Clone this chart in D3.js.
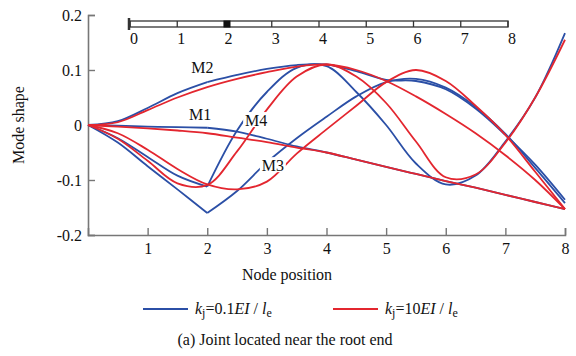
<!DOCTYPE html>
<html>
<head>
<meta charset="utf-8">
<script src="https://cdn.jsdelivr.net/npm/d3@7"></script>
<style>
  body { margin: 0; background: #fff; }
  svg text { font-family: 'Liberation Serif', 'Times New Roman', serif; fill: #111; }
</style>
</head>
<body>
<svg id="chart" width="576" height="356"></svg>
<script>
// node positions along the beam (x values of every curve)
var nodePos = [0, 0.5, 1, 1.5, 2, 2.5, 3, 3.5, 4, 4.5, 5, 5.5, 6, 6.5, 7, 7.5, 8];
var jointPos = 2;

// kj = 0.1EI/le (blue)
var blueM1 = [0, -0.001, -0.003, -0.004, -0.005, -0.012, -0.025, -0.039, -0.05, -0.063, -0.076, -0.089, -0.102, -0.114, -0.127, -0.14, -0.153];
var blueM2 = [0, 0.007, 0.031, 0.058, 0.078, 0.091, 0.102, 0.109, 0.11, 0.098, 0.082, 0.08, 0.065, 0.03, -0.018, -0.072, -0.136];
var blueM3 = [0, -0.032, -0.075, -0.117, -0.16, -0.12, -0.068, -0.024, 0.015, 0.052, 0.078, 0.084, 0.068, 0.033, -0.016, -0.078, -0.142];
var blueM4 = [0, -0.024, -0.058, -0.092, -0.112, -0.01, 0.06, 0.104, 0.107, 0.06, 0.0, -0.07, -0.108, -0.092, -0.03, 0.05, 0.167];

// kj = 10EI/le (red)
var redM1 = [0, -0.003, -0.006, -0.01, -0.015, -0.023, -0.031, -0.041, -0.05, -0.063, -0.076, -0.089, -0.102, -0.114, -0.127, -0.14, -0.153];
var redM2 = [0, 0.005, 0.027, 0.05, 0.069, 0.084, 0.096, 0.106, 0.11, 0.1, 0.08, 0.052, 0.02, -0.015, -0.055, -0.1, -0.153];
var redM3 = [0, -0.015, -0.045, -0.08, -0.108, -0.117, -0.103, -0.052, -0.008, 0.035, 0.078, 0.1, 0.08, 0.035, -0.018, -0.085, -0.153];
var redM4 = [0, -0.025, -0.065, -0.106, -0.109, -0.048, 0.028, 0.088, 0.11, 0.088, 0.04, -0.03, -0.095, -0.09, -0.032, 0.05, 0.155];

var xTicks = [1, 2, 3, 4, 5, 6, 7, 8];
var yTicks = [-0.2, -0.1, 0, 0.1, 0.2];
var yTickLabels = ["-0.2", "-0.1", "0", "0.1", "0.2"];
var beamNodes = [0, 1, 2, 3, 4, 5, 6, 7, 8];

var blue = "#2b4fa6", red = "#e3262f";
var serif = "'Liberation Serif', 'Times New Roman', serif";

var modeLabels = [
  {name: "M1", x: 1.88, y: 0.019},
  {name: "M2", x: 1.92, y: 0.105},
  {name: "M4", x: 2.82, y: 0.009},
  {name: "M3", x: 3.1, y: -0.073}
];

var svg = d3.select("#chart");

var x = d3.scaleLinear().domain([0, 8]).range([88, 565]);
var y = d3.scaleLinear().domain([-0.2, 0.2]).range([235, 15]);

// axes (ticks point inward)
var xAxis = d3.axisBottom(x).tickValues(xTicks).tickSize(-7).tickPadding(8).tickFormat(d3.format("d"));
var yAxis = d3.axisLeft(y).tickValues(yTicks).tickSize(-7).tickPadding(6)
  .tickFormat(function(d, i) { return yTickLabels[i]; });

var gx = svg.append("g").attr("transform", "translate(0," + y(-0.2) + ")").call(xAxis);
var gy = svg.append("g").attr("transform", "translate(" + x(0) + ",0)").call(yAxis);
[gx, gy].forEach(function(g) {
  g.attr("font-family", serif).attr("font-size", 16);
  g.select(".domain").attr("stroke", "#777").attr("stroke-width", 1.6);
  g.selectAll(".tick line").attr("stroke", "#777").attr("stroke-width", 1.4);
  g.selectAll(".tick text").attr("fill", "#111");
});

// lines
var line = d3.line()
  .x(function(d) { return x(d[0]); })
  .y(function(d) { return y(d[1]); })
  .curve(d3.curveCatmullRom.alpha(0.5));

function pairs(vals) {
  return nodePos.map(function(p, i) { return [p, vals[i]]; });
}

var plot = svg.append("g");

function drawSeries(vals, color, kink) {
  var pts = pairs(vals);
  var parts = kink
    ? [pts.filter(function(d) { return d[0] <= jointPos; }), pts.filter(function(d) { return d[0] >= jointPos; })]
    : [pts];
  parts.forEach(function(seg) {
    plot.append("path")
      .attr("d", line(seg))
      .attr("fill", "none")
      .attr("stroke", color)
      .attr("stroke-width", 1.8);
  });
}

[blueM1, blueM2, blueM3, blueM4].forEach(function(s) { drawSeries(s, blue, true); });
[redM1, redM2, redM3, redM4].forEach(function(s) { drawSeries(s, red, false); });

// mode labels sit on white boxes, so they cut the lines
var lab = svg.append("g").selectAll("g").data(modeLabels).enter().append("g")
  .attr("transform", function(d) { return "translate(" + x(d.x) + "," + y(d.y) + ")"; });
lab.append("rect").attr("x", -13).attr("y", -8).attr("width", 26).attr("height", 15).attr("fill", "#fff");
lab.append("text").attr("text-anchor", "middle").attr("dy", "0.35em")
  .style("font-size", "16px").text(function(d) { return d.name; });

// axis titles
svg.append("text").attr("transform", "translate(24,125) rotate(-90)")
  .attr("text-anchor", "middle").style("font-size", "16px").text("Mode shape");
svg.append("text").attr("x", 287).attr("y", 280)
  .attr("text-anchor", "middle").style("font-size", "16px").text("Node position");

// beam sketch at the top
var bx = d3.scaleLinear().domain([0, 8]).range([130, 508]);
var beam = svg.append("g");
beam.append("rect").attr("x", bx(0)).attr("y", 21).attr("width", bx(8) - bx(0)).attr("height", 6)
  .attr("fill", "#fff").attr("stroke", "#333").attr("stroke-width", 1.3);
beam.selectAll("line.node").data(beamNodes).enter().append("line")
  .attr("x1", function(d) { return bx(d); }).attr("x2", function(d) { return bx(d); })
  .attr("y1", 21).attr("y2", 27).attr("stroke", "#333").attr("stroke-width", 1.3);
beam.append("rect").attr("x", bx(jointPos) - 1).attr("y", 20.5).attr("width", 7).attr("height", 7).attr("fill", "#111");
beam.append("line").attr("x1", bx(0) - 1).attr("x2", bx(0) - 1).attr("y1", 18).attr("y2", 30)
  .attr("stroke", "#333").attr("stroke-width", 2.5);
beam.selectAll("text").data(beamNodes).enter().append("text")
  .attr("x", function(d) { return bx(d) + 4; }).attr("y", 44)
  .attr("text-anchor", "middle").style("font-size", "16px").text(function(d) { return d; });

// legend
var legend = [
  {color: blue, x: 143, coef: "0.1"},
  {color: red, x: 333, coef: "10"}
];
var lg = svg.append("g").selectAll("g").data(legend).enter().append("g");
lg.append("line").attr("x1", function(d) { return d.x; }).attr("x2", function(d) { return d.x + 45; })
  .attr("y1", 309).attr("y2", 309).attr("stroke", function(d) { return d.color; }).attr("stroke-width", 2);
var lt = lg.append("text").attr("x", function(d) { return d.x + 52; }).attr("y", 314).style("font-size", "16px");
lt.append("tspan").style("font-style", "italic").text("k");
lt.append("tspan").attr("dy", 3).style("font-size", "12px").text("j");
lt.append("tspan").attr("dy", -3).text(function(d) { return "=" + d.coef; });
lt.append("tspan").style("font-style", "italic").text("EI");
lt.append("tspan").text(" / ");
lt.append("tspan").style("font-style", "italic").text("l");
lt.append("tspan").attr("dy", 3).style("font-size", "12px").text("e");

svg.append("text").attr("x", 285).attr("y", 345)
  .attr("text-anchor", "middle").style("font-size", "16px").text("(a) Joint located  near the root end");
</script>
</body>
</html>
